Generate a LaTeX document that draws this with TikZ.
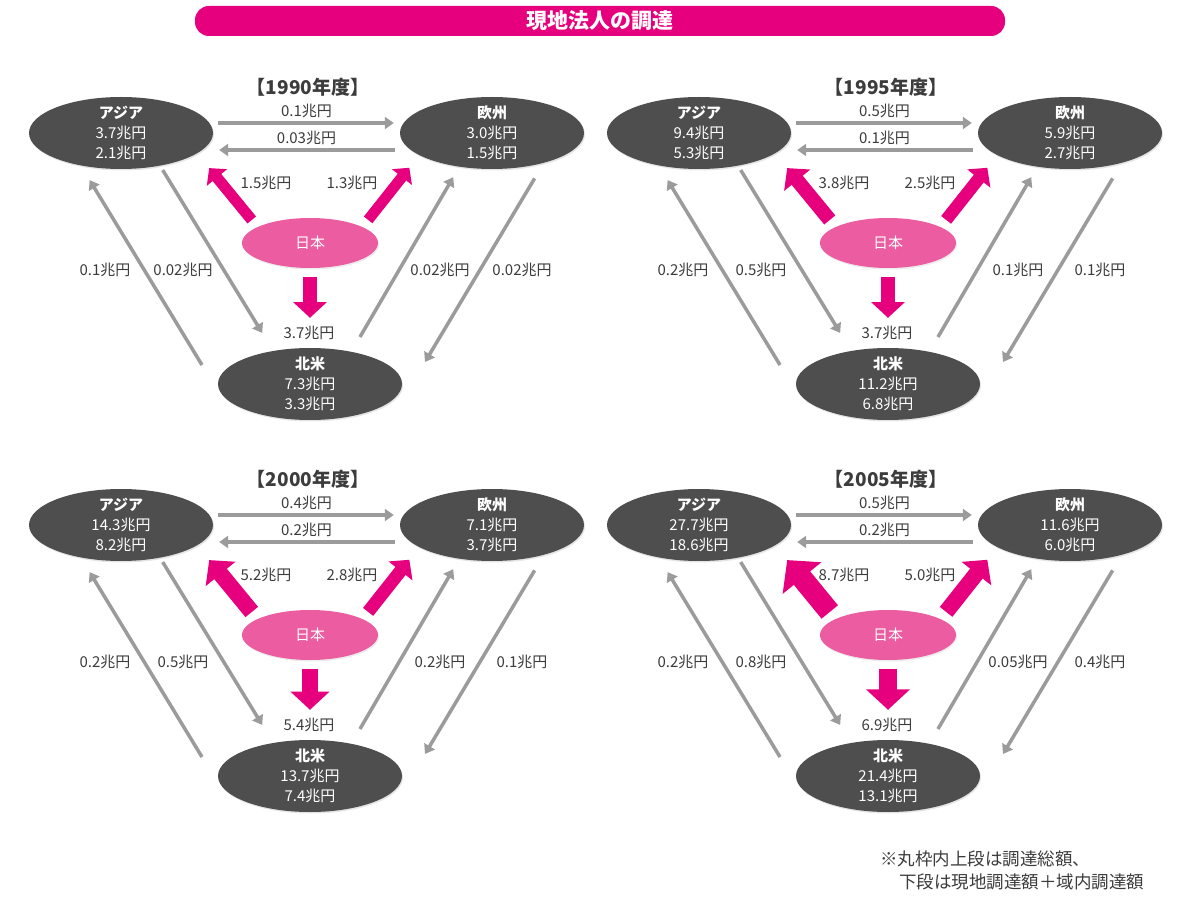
\documentclass[tikz,border=0pt]{standalone}
\usepackage{fontspec}
\setmainfont{Noto Sans CJK JP}
\usetikzlibrary{arrows.meta,shapes.geometric,shadows}

\definecolor{regiongray}{RGB}{78,78,78}
\definecolor{homepink}{RGB}{236,92,160}
\definecolor{aidpink}{RGB}{230,0,126}
\definecolor{flowgray}{RGB}{155,155,155}
\definecolor{labelgray}{RGB}{60,60,60}

% x/y-Verschiebung, Jahr, Regionen (oben/unten), Fluesse, Pfeile aus Japan
\def\panels{
  0/0/1990/3.7/2.1/3.0/1.5/7.3/3.3/0.1/0.03/1.5/1.3/3.7/0.1/0.02/0.02/0.02,
  578/0/1995/9.4/5.3/5.9/2.7/11.2/6.8/0.5/0.1/3.8/2.5/3.7/0.2/0.5/0.1/0.1,
  0/392/2000/14.3/8.2/7.1/3.7/13.7/7.4/0.4/0.2/5.2/2.8/5.4/0.2/0.5/0.2/0.1,
  578/392/2005/27.7/18.6/11.6/6.0/21.4/13.1/0.5/0.2/8.7/5.0/6.9/0.2/0.8/0.05/0.4%
}

\tikzset{
  region/.style={ellipse, fill=regiongray, text=white, minimum width=184pt,
    minimum height=72pt, inner sep=-5pt, align=center,
    drop shadow={opacity=0.2, shadow xshift=1pt, shadow yshift=-1.5pt},
    font=\fontsize{15}{20}\selectfont},
  home/.style={ellipse, fill=homepink, text=white, minimum width=136pt,
    minimum height=50pt, inner sep=0pt,
    drop shadow={opacity=0.15, shadow xshift=1pt, shadow yshift=-1.5pt},
    font=\fontsize{15}{16}\selectfont},
  flow/.style={draw=flowgray, line width=3.5pt,
    -{Triangle[length=9pt,width=12pt]}},
  aid/.style={draw=aidpink, -{Triangle[length=0pt 1.1,width=0pt 2.3]}},
  amount/.style={text=labelgray, inner sep=1pt, font=\fontsize{15}{16}\selectfont},
  yeartitle/.style={text=labelgray, font=\fontsize{19}{21}\selectfont\bfseries},
  banner/.style={fill=aidpink, rounded corners=14pt, text=white,
    minimum width=810pt, minimum height=30pt, inner sep=0pt,
    font=\fontsize{21}{23}\selectfont\bfseries},
  note/.style={text=labelgray, align=left, inner sep=0pt,
    font=\fontsize{17.5}{23}\selectfont},
}

\begin{document}
\begin{tikzpicture}[x=1pt,y=-1pt]
\useasboundingbox[fill=white] (0,0) rectangle (1179,901);

% Titel
\node[banner] (banner) at (600,21) {現地法人の調達};

\foreach \dx/\dy/\yr/\asiaA/\asiaB/\euA/\euB/\naA/\naB/\flowAE/\flowEA/\aidA/\aidE/\aidN/\flowNA/\flowAN/\flowNE/\flowEN [count=\p] in \panels {

  \pgfmathsetmacro{\wA}{9+1.4*\aidA}
  \pgfmathsetmacro{\wE}{9+1.4*\aidE}
  \pgfmathsetmacro{\wN}{9+1.4*\aidN}

  \begin{scope}[shift={(\dx,\dy)}]
    \node[yeartitle] (year-\p) at (308,87) {【\yr 年度】};

    % Regionen
    \node[region] (asia-\p) at (121,133) {\textbf{アジア}\\\asiaA 兆円\\\asiaB 兆円};
    \node[region] (eu-\p)   at (492,133) {\textbf{欧州}\\\euA 兆円\\\euB 兆円};
    \node[region] (na-\p)   at (310,384) {\textbf{北米}\\\naA 兆円\\\naB 兆円};
    \node[home]   (jp-\p)   at (310,243) {日本};

    \coordinate (na2a-\p) at (202,365);
    \coordinate (e2n-\p)  at (425,362);

    % Fluesse zwischen den Regionen
    \draw[flow, shorten <=5pt, shorten >=6pt] (asia-\p.east |- 0,123) -- (eu-\p.west |- 0,123)
      node[amount, midway, above=2pt] (l-ae-\p) {\flowAE 兆円};
    \draw[flow, shorten <=5pt, shorten >=6pt] (eu-\p.west |- 0,150) -- (asia-\p.east |- 0,150)
      node[amount, midway, above=2pt] (l-ea-\p) {\flowEA 兆円};

    \draw[flow, shorten <=5pt, shorten >=21pt] (asia-\p.-40) -- (na-\p.138);
    \draw[flow, shorten >=17pt] (na2a-\p) -- (asia-\p.-141);
    \draw[flow, shorten <=17pt, shorten >=12pt] (na-\p.38) -- (eu-\p.-134);
    \draw[flow, shorten <=18pt] (eu-\p.-30) -- (e2n-\p);

    \node[amount] (l-na-\p) at (105,270) {\flowNA 兆円};
    \node[amount] (l-an-\p) at (183,270) {\flowAN 兆円};
    \node[amount] (l-ne-\p) at (440,270) {\flowNE 兆円};
    \node[amount] (l-en-\p) at (522,270) {\flowEN 兆円};

    % Pfeile aus Japan
    \draw[aid, line width=\wA pt, shorten <=9pt, shorten >=19pt] (jp-\p.163) -- (asia-\p.-15);
    \draw[aid, line width=\wE pt, shorten <=9pt, shorten >=16pt] (jp-\p.17) -- (eu-\p.-163);
    \draw[aid, line width=\wN pt, shorten <=9pt, shorten >=30pt] (jp-\p.south) -- (na-\p.north);

    \node[amount] (l-ja-\p) at (266,183) {\aidA 兆円};
    \node[amount] (l-je-\p) at (352,183) {\aidE 兆円};
    \node[amount] (l-jn-\p) at (309,333) {\aidN 兆円};
  \end{scope}
}

% Fussnote
\node[note, anchor=north west] (note) at (880,851)
  {※丸枠内上段は調達総額、\\\hspace*{1.1em}下段は現地調達額＋域内調達額};

\end{tikzpicture}
\end{document}
